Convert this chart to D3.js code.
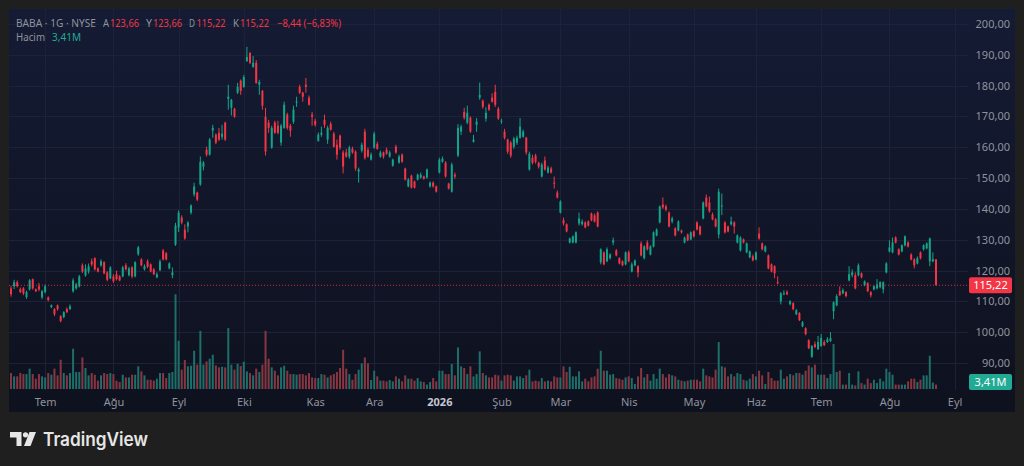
<!DOCTYPE html>
<html>
<head>
<meta charset="utf-8">
<script src="https://cdn.jsdelivr.net/npm/d3@7/dist/d3.min.js"></script>
<style>
  html, body { margin: 0; padding: 0; background: #1f1f1f; }
  svg { display: block; font-family: "Noto Sans", Roboto, sans-serif; }
</style>
</head>
<body>
<svg id="chart" width="1024" height="466"></svg>
<script>
// daily candles, one per trading day (index 0 .. 298)
const opens = [
  114.2,114.9,116.2,113.9,114.2,111.4,113.9,117.2,113.9,114.9,
  111.3,113.0,111.3,108.1,107.5,108.7,105.2,104.9,107.5,107.5,
  113.3,114.2,114.9,121.7,118.4,119.7,123.0,124.0,120.7,121.7,
  122.7,119.4,117.5,118.1,118.8,118.1,118.1,121.7,118.5,121.0,
  118.1,125.3,123.6,120.4,123.0,122.0,120.4,117.8,120.1,126.5,
  125.6,120.7,118.5,128.4,134.0,137.2,133.3,134.3,138.8,144.7,
  145.3,147.9,153.7,159.2,157.6,165.4,164.1,164.7,163.4,168.0,
  175.7,172.8,172.5,177.7,181.6,179.6,188.0,190.6,186.1,187.4,
  180.3,178.3,169.9,168.0,159.9,168.0,167.0,161.5,166.3,170.6,
  167.0,168.3,174.5,179.6,177.7,180.3,176.1,170.6,168.6,162.1,
  164.1,168.9,162.5,167.6,164.4,160.8,163.8,158.3,158.3,157.0,
  159.5,158.6,152.1,158.9,165.1,159.2,156.0,159.9,161.1,157.0,
  158.3,159.2,157.0,154.0,160.2,155.0,157.6,153.1,147.3,150.8,
  148.9,149.5,150.2,150.5,150.2,147.3,148.5,147.3,151.8,155.3,
  155.0,148.2,145.6,151.1,157.3,165.1,171.5,168.0,169.6,161.8,
  167.3,176.1,175.1,169.3,173.8,176.1,178.0,172.5,168.3,165.1,
  162.5,161.5,160.2,161.5,163.1,163.4,163.1,152.8,156.6,157.3,
  155.0,150.5,155.7,151.8,153.1,148.5,145.3,138.8,136.3,135.0,
  129.1,129.1,129.1,135.3,135.0,135.6,135.9,138.5,137.9,138.8,
  122.7,125.9,123.0,124.0,129.1,126.5,124.0,123.0,122.0,125.9,
  119.7,121.7,121.4,128.8,124.0,129.1,125.2,127.8,131.4,135.6,
  141.4,140.8,138.8,135.9,133.7,133.0,133.0,129.1,131.7,130.1,
  132.7,135.6,134.3,136.9,143.7,142.1,138.2,136.6,131.7,140.8,
  135.6,134.3,135.0,135.6,129.1,126.5,130.1,125.9,124.3,124.6,
  123.6,132.0,128.8,126.2,124.9,122.0,121.4,116.2,110.0,112.3,
  113.0,109.1,109.4,105.8,106.2,101.9,101.3,97.4,92.0,96.1,
  94.5,95.5,96.8,96.8,97.1,106.8,108.7,113.3,112.6,113.0,
  116.8,118.5,118.5,118.5,119.1,115.2,115.9,113.0,113.9,114.2,
  114.6,113.9,119.4,126.2,125.9,130.7,126.9,126.2,128.2,129.1,
  125.2,123.6,122.3,125.9,126.9,127.2,123.0,123.0,123.66
];
const highs = [
  115.0,117.0,116.8,114.5,114.6,113.5,117.2,117.4,114.2,116.0,
  113.7,115.5,111.6,109.0,107.8,109.0,105.5,106.8,108.0,109.0,
  117.5,116.0,118.6,122.3,122.0,122.3,123.9,124.3,121.0,123.6,
  123.0,119.8,121.4,118.8,120.0,118.5,121.5,122.4,121.2,121.4,
  123.0,128.0,124.0,122.0,123.6,122.3,120.8,119.4,123.6,127.0,
  126.0,122.7,121.0,135.5,139.5,137.9,135.0,136.0,141.5,148.5,
  145.6,157.0,155.5,160.2,163.0,167.3,164.5,166.3,167.3,168.3,
  180.3,175.7,172.8,180.9,182.0,183.5,192.6,190.9,189.6,188.3,
  181.9,178.6,172.8,168.9,167.0,168.6,168.6,167.6,174.8,171.2,
  167.6,173.5,176.4,180.3,178.0,182.5,176.8,171.5,169.3,164.8,
  166.7,170.6,167.0,168.3,165.0,162.5,164.1,159.0,159.5,160.5,
  160.2,159.0,153.4,161.5,166.0,159.9,158.3,165.1,161.8,158.9,
  158.6,159.9,158.9,156.3,160.8,157.6,158.0,153.4,150.0,151.1,
  149.2,151.5,151.8,150.8,153.1,148.9,148.9,147.6,156.6,157.0,
  155.5,148.5,155.0,151.8,167.5,167.3,172.8,173.5,170.0,164.0,
  169.5,181.0,175.5,173.0,174.2,177.5,180.3,173.1,169.3,166.0,
  162.8,162.0,163.4,163.8,169.5,165.7,163.4,158.6,157.6,157.9,
  155.3,155.0,157.0,154.0,153.7,150.5,146.0,142.8,137.2,135.3,
  130.7,131.4,132.7,138.8,136.6,136.0,136.3,138.8,138.5,139.2,
  127.2,126.2,127.5,125.6,130.7,127.0,124.3,123.3,126.2,126.5,
  122.7,123.6,121.7,129.5,128.2,129.8,128.2,132.7,133.7,141.1,
  143.7,141.4,139.2,137.5,134.0,136.3,133.3,131.0,132.0,132.7,
  133.0,136.0,134.6,142.4,144.7,144.0,138.8,137.0,146.6,145.0,
  136.0,134.6,137.5,136.0,131.7,131.1,130.4,129.1,126.5,125.2,
  126.2,134.0,129.1,128.2,125.2,122.3,121.7,118.1,113.0,113.6,
  113.6,110.4,109.7,107.5,106.5,103.6,101.6,97.7,95.8,97.0,
  98.8,99.4,97.4,98.4,100.0,110.0,112.3,114.9,114.2,113.3,
  121.4,120.4,119.4,122.3,119.4,116.8,116.2,113.3,115.2,117.2,
  116.5,116.5,122.7,129.8,130.7,131.1,127.2,128.5,131.4,129.5,
  125.6,124.0,124.6,126.2,128.5,129.1,130.7,125.9,123.66
];
const lows = [
  111.5,114.0,114.5,112.7,112.0,110.8,113.5,113.8,113.0,113.3,
  110.7,112.6,110.0,107.8,105.2,107.0,103.2,104.5,106.2,107.2,
  112.8,113.8,114.5,119.2,118.0,119.0,121.4,120.0,119.4,121.2,
  118.8,116.5,117.2,116.0,116.8,116.5,117.8,120.0,118.1,117.5,
  117.8,124.8,121.4,120.0,120.8,119.4,118.5,117.5,119.8,123.3,
  123.3,120.4,117.5,128.0,132.5,135.0,130.0,132.4,138.2,144.0,
  142.5,147.5,152.5,157.0,157.3,163.1,161.0,162.0,162.5,162.0,
  172.2,170.3,169.6,177.3,177.0,179.3,187.7,187.0,185.8,180.6,
  177.0,172.2,157.3,164.7,159.5,164.4,164.2,160.5,166.0,165.7,
  163.4,167.6,173.1,177.3,174.8,177.7,173.5,167.0,166.7,161.8,
  163.4,166.3,161.1,165.4,159.9,156.0,159.2,151.5,156.6,156.3,
  157.9,152.4,148.5,158.3,156.0,156.6,155.7,159.5,159.2,156.6,
  156.3,157.6,156.6,153.7,157.9,154.7,155.0,149.2,147.0,146.6,
  146.6,149.2,149.8,149.5,149.8,146.9,146.9,145.3,151.5,155.0,
  150.2,146.3,145.3,149.8,156.8,164.0,169.0,167.5,164.7,161.5,
  165.0,175.4,172.5,168.3,171.8,174.5,173.1,168.9,167.6,162.5,
  157.9,156.6,159.5,160.8,162.8,163.1,157.6,152.4,154.4,154.7,
  153.1,150.2,152.4,151.5,151.5,146.6,143.4,138.5,134.6,132.4,
  128.8,128.8,128.8,134.6,134.6,133.7,134.3,136.0,135.6,134.0,
  122.0,121.7,122.7,123.6,128.2,124.6,122.0,121.4,121.7,122.7,
  119.4,121.4,117.8,124.6,123.6,126.5,124.9,127.5,131.1,135.3,
  140.0,139.2,134.0,135.3,131.1,132.7,132.0,128.8,129.5,129.8,
  130.7,133.0,131.4,136.6,140.5,138.8,136.3,134.0,130.4,138.0,
  132.0,132.4,134.6,132.0,128.8,126.2,128.8,125.6,124.0,123.0,
  123.3,130.0,126.5,125.9,120.4,119.4,117.5,115.5,109.0,112.0,
  112.0,108.7,107.1,105.5,103.6,101.6,99.0,94.5,91.7,94.8,
  94.2,95.2,95.5,96.5,96.8,104.2,108.4,111.7,112.3,111.3,
  116.5,117.8,113.9,118.1,117.5,114.9,113.0,111.3,113.6,113.9,
  114.2,112.6,119.1,125.9,125.6,128.8,124.9,125.9,127.8,127.5,
  123.3,120.7,122.0,123.6,126.5,126.9,121.4,122.7,115.22
];
const closes = [
  112.3,116.2,114.9,113.0,112.6,113.0,116.8,114.2,113.3,113.9,
  113.3,114.9,110.4,108.7,105.8,107.5,103.6,106.5,106.5,108.4,
  116.8,115.5,118.1,119.7,120.7,121.4,122.0,120.4,119.7,123.0,
  119.1,117.0,121.0,116.5,117.2,116.8,121.0,120.4,120.7,118.1,
  122.7,127.5,121.7,121.4,121.2,119.7,118.8,118.8,123.0,123.6,
  123.6,122.3,119.4,134.6,138.8,135.6,130.4,135.6,141.1,147.3,
  143.0,155.3,155.0,157.6,162.5,166.3,161.5,162.5,164.4,162.5,
  176.4,175.4,169.9,179.6,178.3,182.8,189.3,187.4,187.4,180.9,
  181.2,173.5,158.6,166.3,166.3,164.7,164.7,167.0,173.8,166.3,
  165.4,172.2,174.8,177.7,176.4,179.6,173.8,169.9,167.3,164.1,
  164.7,167.3,166.3,165.7,160.2,157.6,159.9,153.7,157.0,159.9,
  158.3,153.1,152.8,160.8,156.6,157.0,157.6,164.4,159.5,158.3,
  157.0,157.9,158.3,156.0,158.3,157.0,155.3,149.5,149.5,146.9,
  146.9,151.1,151.1,149.8,152.8,148.5,147.3,145.6,156.0,156.3,
  150.5,146.6,154.4,150.5,166.3,166.7,169.6,171.2,165.1,162.5,
  168.3,177.0,173.1,171.2,172.2,174.8,173.8,169.3,168.6,163.1,
  158.6,157.3,162.8,163.1,166.7,165.1,158.3,157.9,155.0,155.3,
  153.7,154.4,152.8,153.4,151.8,148.2,143.7,142.4,135.3,132.7,
  130.4,131.1,132.4,136.9,135.9,134.0,134.6,136.3,135.9,134.3,
  126.9,122.0,126.9,125.2,129.8,124.9,122.3,121.7,125.9,123.0,
  122.0,123.3,119.4,124.9,127.8,126.9,127.8,132.4,133.3,140.8,
  140.5,139.8,134.3,136.9,131.4,135.9,132.4,130.7,129.8,132.4,
  131.1,133.3,131.7,142.1,140.8,139.2,136.6,134.3,145.6,141.1,
  132.4,132.7,135.9,134.3,131.4,130.7,129.1,128.8,126.2,123.3,
  125.9,130.4,126.9,127.8,120.7,119.7,119.1,115.9,112.6,112.6,
  112.3,110.0,107.5,107.1,103.9,103.2,99.4,94.8,95.5,95.2,
  96.8,98.1,95.8,97.7,98.1,109.7,111.7,112.0,113.6,111.7,
  118.8,119.4,114.2,121.7,117.8,116.5,113.3,112.0,114.9,115.5,
  116.2,116.2,122.3,127.5,129.1,129.1,125.2,128.2,131.1,127.8,
  123.6,121.7,124.0,124.0,128.2,128.8,130.4,123.66,115.22
];
// volume in millions
const volumes = [
  12.4,9.8,9.8,12.4,11.6,11.6,15.8,11.6,8.0,11.6,
  9.8,9.0,12.4,11.1,15.8,10.6,22.7,12.4,10.6,12.4,
  31.3,13.2,13.2,24.5,16.3,10.6,12.4,11.1,6.5,10.6,
  12.4,11.6,12.4,11.6,6.5,5.4,11.1,9.0,9.0,11.1,
  11.1,17.6,13.7,10.6,7.2,7.2,6.5,8.0,12.4,12.4,
  8.5,12.4,13.2,73.6,37.5,15.0,22.5,17.6,18.1,29.7,
  18.9,45.2,18.9,21.4,23.5,26.6,18.3,16.8,17.3,16.8,
  47.3,18.9,15.0,19.6,17.8,21.2,13.7,12.4,10.6,15.8,
  13.2,18.9,45.2,23.5,16.8,14.2,10.6,16.8,18.1,14.2,
  11.6,11.6,11.1,11.6,11.6,10.6,12.4,9.0,8.5,8.5,
  11.6,11.1,9.0,10.6,11.6,13.2,16.3,30.5,15.8,11.6,
  7.2,11.6,15.0,19.9,24.5,19.9,7.0,14.2,9.8,6.5,
  6.5,5.9,7.0,5.9,9.8,8.0,5.9,10.6,8.0,8.0,
  6.5,8.5,5.9,5.4,3.4,5.4,8.5,5.9,14.2,14.2,
  11.6,11.6,19.4,10.6,32.3,17.6,16.3,11.6,17.6,9.8,
  11.6,29.2,12.4,10.6,9.0,9.0,11.1,10.6,6.5,10.6,
  11.1,10.6,6.5,9.8,9.8,8.5,10.6,15.0,5.9,6.5,
  5.9,8.5,5.9,6.5,5.9,9.8,9.0,9.0,17.6,13.2,
  17.3,9.8,9.8,13.7,5.9,8.0,5.9,9.0,9.8,15.8,
  29.7,14.2,14.2,11.1,11.6,8.5,8.0,7.2,9.0,9.8,
  8.5,3.9,9.8,16.3,9.0,11.6,6.5,11.6,8.0,15.8,
  11.6,9.0,11.6,10.6,9.8,7.2,6.5,5.9,6.5,7.2,
  7.2,7.2,5.9,15.8,10.6,9.8,9.0,15.0,36.4,17.6,
  16.8,9.8,11.6,9.8,12.4,11.6,7.2,6.5,8.0,11.6,
  9.8,14.2,10.6,3.9,13.2,8.5,6.5,6.5,15.0,8.0,
  9.8,11.6,10.6,12.4,12.4,11.1,14.2,18.3,16.8,18.9,
  11.1,11.1,11.1,8.5,11.6,34.9,13.2,14.2,3.4,3.4,
  12.4,3.4,2.8,13.7,4.6,3.4,8.0,4.6,7.2,4.6,
  8.0,5.9,15.8,13.2,11.1,3.4,3.4,3.4,3.4,5.9,
  8.0,8.0,5.4,7.2,10.6,10.6,25.8,5.0,3.41
];

// time axis: bar index of the first session of each month
const monthIdx = [11, 33, 54, 75, 98, 117, 138, 158, 177, 199, 220, 240, 261, 283, 304];
const monthLabels = ["Tem", "Ağu", "Eyl", "Eki", "Kas", "Ara", "2026", "Şub", "Mar", "Nis", "May", "Haz", "Tem", "Ağu", "Eyl"];
const priceTicks = [90, 100, 110, 120, 130, 140, 150, 160, 170, 180, 190, 200];

const lastClose = 115.22;
const lastVolume = 3.41;

const UP = "#12a58a";
const DOWN = "#f23645";
const VOL_UP = "#1e6e69";
const VOL_DOWN = "#873741";
const GRID = "#1c2339";
const TXT = "#8f939e";

const svg = d3.select("#chart");
const idx = d3.range(closes.length);

const x = d3.scaleLinear().domain([0, closes.length - 1]).range([11, 936]);
const y = d3.scaleLinear().domain([90, 200]).range([363, 24]);
const yv = d3.scaleLinear().domain([0, 80]).range([389, 286]);

const fmt = v => v.toFixed(2).replace(".", ",");

// panel background
const grad = svg.append("defs").append("linearGradient")
  .attr("id", "bg").attr("x1", 0).attr("x2", 0).attr("y1", 0).attr("y2", 1);
grad.append("stop").attr("offset", "0%").attr("stop-color", "#141b34");
grad.append("stop").attr("offset", "100%").attr("stop-color", "#0e111e");

svg.append("rect")
  .attr("x", 9).attr("y", 9).attr("width", 1006).attr("height", 403)
  .attr("fill", "url(#bg)");

// grid
svg.append("g").selectAll("line")
  .data(priceTicks)
  .join("line")
  .attr("x1", 9).attr("x2", 968)
  .attr("y1", d => Math.round(y(d)) + 0.5)
  .attr("y2", d => Math.round(y(d)) + 0.5)
  .attr("stroke", GRID);

svg.append("g").selectAll("line")
  .data(monthIdx)
  .join("line")
  .attr("x1", d => Math.round(x(d)) + 0.5)
  .attr("x2", d => Math.round(x(d)) + 0.5)
  .attr("y1", 9).attr("y2", 390)
  .attr("stroke", GRID);

// volume bars
svg.append("g").selectAll("rect")
  .data(idx)
  .join("rect")
  .attr("x", i => x(i) - 1)
  .attr("width", 2)
  .attr("y", i => yv(volumes[i]))
  .attr("height", i => yv(0) - yv(volumes[i]))
  .attr("fill", i => closes[i] >= opens[i] ? VOL_UP : VOL_DOWN);

// candles
const candle = svg.append("g").selectAll("g")
  .data(idx)
  .join("g")
  .attr("fill", i => closes[i] >= opens[i] ? UP : DOWN)
  .attr("stroke", i => closes[i] >= opens[i] ? UP : DOWN);

candle.append("line")
  .attr("x1", i => x(i)).attr("x2", i => x(i))
  .attr("y1", i => y(highs[i])).attr("y2", i => y(lows[i]))
  .attr("stroke-width", 1);

candle.append("rect")
  .attr("stroke", "none")
  .attr("x", i => x(i) - 1)
  .attr("width", 2)
  .attr("y", i => y(Math.max(opens[i], closes[i])))
  .attr("height", i => Math.max(1, Math.abs(y(opens[i]) - y(closes[i]))));

// last price line
svg.append("line")
  .attr("x1", 9).attr("x2", 968)
  .attr("y1", y(lastClose)).attr("y2", y(lastClose))
  .attr("stroke", DOWN).attr("stroke-dasharray", "1,2").attr("opacity", 0.85);

// price axis
const yAxis = svg.append("g")
  .attr("transform", "translate(968,0)")
  .call(d3.axisRight(y).tickValues(priceTicks).tickFormat(fmt).tickSize(0));
yAxis.select(".domain").remove();
yAxis.selectAll("text")
  .attr("x", 42).attr("text-anchor", "end")
  .attr("fill", TXT).attr("font-size", 11)
  .attr("font-family", "'Noto Sans', Roboto, sans-serif");

// time axis
const xAxis = svg.append("g")
  .attr("transform", "translate(0,390)")
  .call(d3.axisBottom(x).tickValues(monthIdx).tickFormat((d, i) => monthLabels[i]).tickSize(0));
xAxis.select(".domain").remove();
xAxis.selectAll("text")
  .attr("y", 16).attr("dy", 0)
  .attr("fill", (d, i) => monthLabels[i] === "2026" ? "#c3c6ce" : TXT)
  .attr("font-weight", (d, i) => monthLabels[i] === "2026" ? 700 : 400)
  .attr("font-size", 11)
  .attr("font-family", "'Noto Sans', Roboto, sans-serif");

// last value labels on the price scale
svg.append("rect")
  .attr("x", 969).attr("y", y(lastClose) - 8).attr("width", 43).attr("height", 16).attr("rx", 2)
  .attr("fill", DOWN);
svg.append("text")
  .attr("x", 990.5).attr("y", y(lastClose) + 4)
  .attr("text-anchor", "middle").attr("fill", "#ffffff").attr("font-size", 11)
  .text(fmt(lastClose));

svg.append("rect")
  .attr("x", 969).attr("y", 374).attr("width", 43).attr("height", 16).attr("rx", 2)
  .attr("fill", "#22ab94");
svg.append("text")
  .attr("x", 990.5).attr("y", 386)
  .attr("text-anchor", "middle").attr("fill", "#ffffff").attr("font-size", 11)
  .text(fmt(lastVolume) + "M");

// legend, each piece squeezed to the width it has in the source
const head = [
  { x: 16, w: 80, t: "BABA · 1G · NYSE", c: TXT },
  { x: 103, w: 6, t: "A", c: TXT }, { x: 110, w: 29, t: fmt(opens[opens.length - 1]), c: DOWN },
  { x: 146, w: 6, t: "Y", c: TXT }, { x: 153, w: 29, t: fmt(highs[highs.length - 1]), c: DOWN },
  { x: 189, w: 6, t: "D", c: TXT }, { x: 196.5, w: 29, t: fmt(lows[lows.length - 1]), c: DOWN },
  { x: 233, w: 6, t: "K", c: TXT }, { x: 240, w: 29, t: fmt(closes[closes.length - 1]), c: DOWN },
  { x: 277, w: 64, t: "−8,44 (−6,83%)", c: DOWN },
  { x: 16, w: 29, t: "Hacim", c: TXT, row: 2 },
  { x: 52, w: 29, t: fmt(lastVolume) + "M", c: "#22ab94", row: 2 }
];
svg.append("g").selectAll("text")
  .data(head)
  .join("text")
  .attr("x", d => d.x).attr("y", d => d.row === 2 ? 41 : 27)
  .attr("textLength", d => d.w).attr("lengthAdjust", "spacingAndGlyphs")
  .attr("fill", d => d.c).attr("font-size", 11)
  .text(d => d.t);

// TradingView mark
const logo = svg.append("g").attr("fill", "#e6e6e6");
logo.append("path").attr("d", "M10,432 H21.5 V446 H16.5 V437.5 H10 Z");
logo.append("circle").attr("cx", 25.5).attr("cy", 434.8).attr("r", 2.6);
logo.append("path").attr("d", "M29.5,432 H36 L30.5,446 H24 Z");
logo.append("text")
  .attr("x", 43).attr("y", 446)
  .attr("font-size", 18.5).attr("font-weight", 600)
  .attr("textLength", 105).attr("lengthAdjust", "spacingAndGlyphs")
  .attr("font-family", "Inter, 'Noto Sans', sans-serif")
  .text("TradingView");
</script>
</body>
</html>
